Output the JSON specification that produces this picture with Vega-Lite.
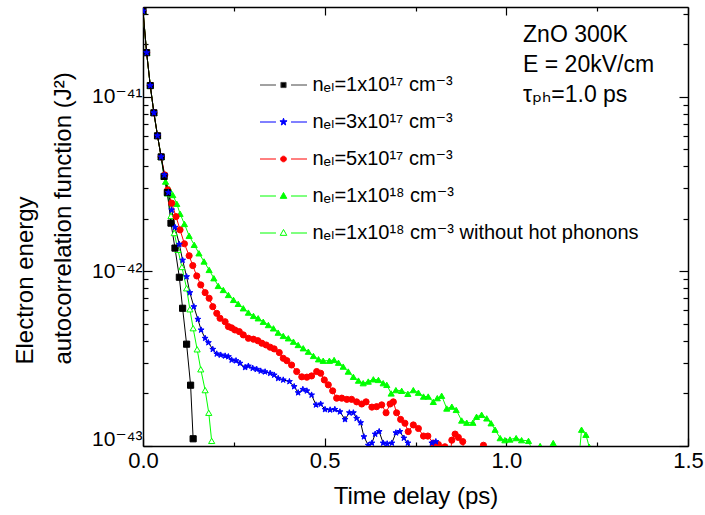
{
  "$schema": "https://vega.github.io/schema/vega-lite/v6.json",
  "width": 545,
  "height": 439,
  "autosize": "none",
  "padding": {"left": 143, "top": 7, "right": 17, "bottom": 69},
  "background": "white",
  "config": {
    "font": "Liberation Sans, DejaVu Sans",
    "view": {"stroke": null},
    "axis": {"grid": false, "domainColor": "#000", "domainWidth": 1.5, "tickColor": "#000", "tickWidth": 1.2, "labelColor": "#000", "titleColor": "#000", "labelFont": "Liberation Sans, DejaVu Sans", "titleFont": "Liberation Sans, DejaVu Sans", "titleFontWeight": "normal"}
  },
  "data": {"values": [
    {"s":"D","t":0,"y":3.1e-41},{"s":"D","t":0.01,"y":1.79e-41},{"s":"D","t":0.02,"y":1.16e-41},{"s":"D","t":0.03,"y":8.1e-42},{"s":"D","t":0.04,"y":5.98e-42},{"s":"D","t":0.05,"y":4.53e-42},
    {"s":"D","t":0.062,"y":3.27e-42},{"s":"D","t":0.072,"y":2.96e-42},{"s":"D","t":0.082,"y":2.74e-42},{"s":"D","t":0.093,"y":2.44e-42},{"s":"D","t":0.102,"y":2.14e-42},{"s":"D","t":0.114,"y":1.87e-42},{"s":"D","t":0.127,"y":1.6e-42},{"s":"D","t":0.141,"y":1.42e-42},{"s":"D","t":0.154,"y":1.27e-42},{"s":"D","t":0.168,"y":1.14e-42},{"s":"D","t":0.182,"y":1.02e-42},{"s":"D","t":0.195,"y":9.14e-43},{"s":"D","t":0.207,"y":8.26e-43},{"s":"D","t":0.221,"y":7.83e-43},{"s":"D","t":0.235,"y":7.33e-43},{"s":"D","t":0.249,"y":6.87e-43},{"s":"D","t":0.262,"y":6.52e-43},{"s":"D","t":0.276,"y":6.15e-43},{"s":"D","t":0.29,"y":5.81e-43},{"s":"D","t":0.304,"y":5.56e-43},{"s":"D","t":0.317,"y":5.39e-43},{"s":"D","t":0.331,"y":5.15e-43},{"s":"D","t":0.345,"y":4.93e-43},{"s":"D","t":0.359,"y":4.72e-43},{"s":"D","t":0.372,"y":4.46e-43},{"s":"D","t":0.386,"y":4.27e-43},{"s":"D","t":0.4,"y":4.14e-43},{"s":"D","t":0.414,"y":3.96e-43},{"s":"D","t":0.427,"y":3.79e-43},{"s":"D","t":0.441,"y":3.63e-43},{"s":"D","t":0.455,"y":3.47e-43},{"s":"D","t":0.469,"y":3.28e-43},{"s":"D","t":0.483,"y":3.14e-43},{"s":"D","t":0.496,"y":3.08e-43},{"s":"D","t":0.513,"y":3.08e-43},{"s":"D","t":0.526,"y":3.11e-43},{"s":"D","t":0.538,"y":3.0e-43},{"s":"D","t":0.551,"y":2.85e-43},{"s":"D","t":0.565,"y":2.67e-43},{"s":"D","t":0.579,"y":2.49e-43},{"s":"D","t":0.593,"y":2.37e-43},{"s":"D","t":0.606,"y":2.29e-43},{"s":"D","t":0.62,"y":2.34e-43},{"s":"D","t":0.634,"y":2.41e-43},{"s":"D","t":0.648,"y":2.39e-43},{"s":"D","t":0.661,"y":2.29e-43},{"s":"D","t":0.671,"y":2.24e-43},{"s":"D","t":0.683,"y":2.0e-43},{"s":"D","t":0.696,"y":2.09e-43},{"s":"D","t":0.712,"y":2.07e-43},{"s":"D","t":0.729,"y":1.99e-43},{"s":"D","t":0.744,"y":2.09e-43},{"s":"D","t":0.758,"y":2.02e-43},{"s":"D","t":0.772,"y":1.92e-43},{"s":"D","t":0.785,"y":1.92e-43},{"s":"D","t":0.799,"y":1.79e-43},{"s":"D","t":0.81,"y":1.88e-43},{"s":"D","t":0.822,"y":1.94e-43},{"s":"D","t":0.836,"y":1.64e-43},{"s":"D","t":0.85,"y":1.68e-43},{"s":"D","t":0.862,"y":1.61e-43},{"s":"D","t":0.877,"y":1.4e-43},{"s":"D","t":0.891,"y":1.36e-43},{"s":"D","t":0.908,"y":1.36e-43},{"s":"D","t":0.918,"y":1.47e-43},{"s":"D","t":0.932,"y":1.51e-43},{"s":"D","t":0.946,"y":1.44e-43},{"s":"D","t":0.958,"y":1.35e-43},{"s":"D","t":0.969,"y":1.24e-43},{"s":"D","t":0.983,"y":1.11e-43},{"s":"D","t":0.996,"y":1.08e-43},{"s":"D","t":1.01,"y":1.09e-43},{"s":"D","t":1.027,"y":1.11e-43},{"s":"D","t":1.042,"y":1.08e-43},{"s":"D","t":1.061,"y":1.07e-43},{"s":"D","t":1.075,"y":9e-44},{"s":"D","t":1.093,"y":1.0e-43},{"s":"D","t":1.11,"y":7e-44},{"s":"D","t":1.129,"y":1.04e-43},{"s":"D","t":1.15,"y":5e-44},{"s":"D","t":1.19,"y":5e-44},{"s":"D","t":1.207,"y":1.24e-43},{"s":"D","t":1.219,"y":1.16e-43},{"s":"D","t":1.228,"y":9.9e-44},{"s":"D","t":1.24,"y":5e-44},
    {"s":"E","t":0,"y":3.1e-41},{"s":"E","t":0.01,"y":1.79e-41},{"s":"E","t":0.02,"y":1.16e-41},{"s":"E","t":0.03,"y":8.1e-42},{"s":"E","t":0.04,"y":5.98e-42},{"s":"E","t":0.05,"y":4.53e-42},
    {"s":"E","t":0.058,"y":3.49e-42},{"s":"E","t":0.067,"y":2.8e-42},{"s":"E","t":0.077,"y":2.08e-42},{"s":"E","t":0.086,"y":1.66e-42},{"s":"E","t":0.096,"y":1.33e-42},{"s":"E","t":0.107,"y":1.06e-42},{"s":"E","t":0.12,"y":8.01e-43},{"s":"E","t":0.129,"y":6.07e-43},{"s":"E","t":0.138,"y":4.73e-43},{"s":"E","t":0.149,"y":3.58e-43},{"s":"E","t":0.159,"y":2.75e-43},{"s":"E","t":0.171,"y":2.09e-43},{"s":"E","t":0.181,"y":1.55e-43},{"s":"E","t":0.189,"y":1.07e-43},
    {"s":"C","t":0,"y":3.1e-41},{"s":"C","t":0.01,"y":1.79e-41},{"s":"C","t":0.02,"y":1.16e-41},{"s":"C","t":0.03,"y":8.1e-42},{"s":"C","t":0.04,"y":5.98e-42},{"s":"C","t":0.05,"y":4.53e-42},
    {"s":"C","t":0.06,"y":3.57e-42},{"s":"C","t":0.068,"y":2.93e-42},{"s":"C","t":0.079,"y":2.46e-42},{"s":"C","t":0.091,"y":2.06e-42},{"s":"C","t":0.102,"y":1.73e-42},{"s":"C","t":0.114,"y":1.44e-42},{"s":"C","t":0.127,"y":1.23e-42},{"s":"C","t":0.137,"y":1.08e-42},{"s":"C","t":0.148,"y":9.42e-43},{"s":"C","t":0.159,"y":8.37e-43},{"s":"C","t":0.171,"y":7.56e-43},{"s":"C","t":0.182,"y":7.02e-43},{"s":"C","t":0.192,"y":6.28e-43},{"s":"C","t":0.203,"y":5.75e-43},{"s":"C","t":0.212,"y":5.39e-43},{"s":"C","t":0.226,"y":5.15e-43},{"s":"C","t":0.235,"y":4.83e-43},{"s":"C","t":0.244,"y":4.75e-43},{"s":"C","t":0.253,"y":4.62e-43},{"s":"C","t":0.265,"y":4.52e-43},{"s":"C","t":0.276,"y":4.33e-43},{"s":"C","t":0.29,"y":4.14e-43},{"s":"C","t":0.304,"y":4.09e-43},{"s":"C","t":0.316,"y":4.01e-43},{"s":"C","t":0.327,"y":3.88e-43},{"s":"C","t":0.339,"y":3.79e-43},{"s":"C","t":0.35,"y":3.68e-43},{"s":"C","t":0.361,"y":3.6e-43},{"s":"C","t":0.375,"y":3.43e-43},{"s":"C","t":0.386,"y":3.18e-43},{"s":"C","t":0.396,"y":3.08e-43},{"s":"C","t":0.409,"y":2.91e-43},{"s":"C","t":0.423,"y":2.67e-43},{"s":"C","t":0.437,"y":2.49e-43},{"s":"C","t":0.451,"y":2.48e-43},{"s":"C","t":0.464,"y":2.52e-43},{"s":"C","t":0.478,"y":2.67e-43},{"s":"C","t":0.489,"y":2.61e-43},{"s":"C","t":0.499,"y":2.39e-43},{"s":"C","t":0.51,"y":2.24e-43},{"s":"C","t":0.522,"y":2.07e-43},{"s":"C","t":0.533,"y":1.88e-43},{"s":"C","t":0.547,"y":1.88e-43},{"s":"C","t":0.561,"y":1.85e-43},{"s":"C","t":0.574,"y":1.85e-43},{"s":"C","t":0.588,"y":1.79e-43},{"s":"C","t":0.602,"y":1.74e-43},{"s":"C","t":0.614,"y":1.79e-43},{"s":"C","t":0.63,"y":1.67e-43},{"s":"C","t":0.643,"y":1.68e-43},{"s":"C","t":0.657,"y":1.72e-43},{"s":"C","t":0.669,"y":1.55e-43},{"s":"C","t":0.68,"y":1.74e-43},{"s":"C","t":0.689,"y":1.79e-43},{"s":"C","t":0.698,"y":1.55e-43},{"s":"C","t":0.709,"y":1.42e-43},{"s":"C","t":0.721,"y":1.35e-43},{"s":"C","t":0.73,"y":1.21e-43},{"s":"C","t":0.744,"y":1.32e-43},{"s":"C","t":0.758,"y":1.26e-43},{"s":"C","t":0.772,"y":1.14e-43},{"s":"C","t":0.784,"y":1.14e-43},{"s":"C","t":0.799,"y":1.04e-43},{"s":"C","t":0.813,"y":1.02e-43},{"s":"C","t":0.831,"y":9.9e-44},{"s":"C","t":0.84,"y":7e-44},{"s":"C","t":0.85,"y":1.08e-43},{"s":"C","t":0.859,"y":1.17e-43},{"s":"C","t":0.868,"y":1.12e-43},{"s":"C","t":0.88,"y":1.06e-43},{"s":"C","t":0.895,"y":5e-44},{"s":"C","t":0.925,"y":5e-44},{"s":"C","t":0.937,"y":1.01e-43},{"s":"C","t":0.95,"y":5e-44},
    {"s":"A","t":0,"y":3.1e-41},{"s":"A","t":0.01,"y":1.79e-41},{"s":"A","t":0.02,"y":1.16e-41},{"s":"A","t":0.03,"y":8.1e-42},{"s":"A","t":0.04,"y":5.98e-42},{"s":"A","t":0.05,"y":4.53e-42},
    {"s":"A","t":0.058,"y":3.5e-42},{"s":"A","t":0.067,"y":2.83e-42},{"s":"A","t":0.077,"y":1.89e-42},{"s":"A","t":0.088,"y":1.36e-42},{"s":"A","t":0.1,"y":9.26e-43},{"s":"A","t":0.109,"y":6.15e-43},{"s":"A","t":0.12,"y":3.83e-43},{"s":"A","t":0.131,"y":2.23e-43},{"s":"A","t":0.138,"y":1.1e-43},
    {"s":"B","t":0,"y":3.1e-41},{"s":"B","t":0.01,"y":1.79e-41},{"s":"B","t":0.02,"y":1.16e-41},{"s":"B","t":0.03,"y":8.1e-42},{"s":"B","t":0.04,"y":5.98e-42},{"s":"B","t":0.05,"y":4.53e-42},
    {"s":"B","t":0.059,"y":3.57e-42},{"s":"B","t":0.07,"y":2.83e-42},{"s":"B","t":0.079,"y":2.25e-42},{"s":"B","t":0.088,"y":1.79e-42},{"s":"B","t":0.1,"y":1.43e-42},{"s":"B","t":0.109,"y":1.16e-42},{"s":"B","t":0.12,"y":9.33e-43},{"s":"B","t":0.129,"y":7.56e-43},{"s":"B","t":0.14,"y":6.28e-43},{"s":"B","t":0.151,"y":5.32e-43},{"s":"B","t":0.16,"y":4.62e-43},{"s":"B","t":0.171,"y":4.14e-43},{"s":"B","t":0.18,"y":3.91e-43},{"s":"B","t":0.192,"y":3.58e-43},{"s":"B","t":0.203,"y":3.37e-43},{"s":"B","t":0.214,"y":3.32e-43},{"s":"B","t":0.226,"y":3.28e-43},{"s":"B","t":0.235,"y":3.25e-43},{"s":"B","t":0.244,"y":3.11e-43},{"s":"B","t":0.256,"y":3.08e-43},{"s":"B","t":0.267,"y":2.98e-43},{"s":"B","t":0.281,"y":2.82e-43},{"s":"B","t":0.29,"y":2.87e-43},{"s":"B","t":0.302,"y":2.79e-43},{"s":"B","t":0.313,"y":2.75e-43},{"s":"B","t":0.324,"y":2.69e-43},{"s":"B","t":0.336,"y":2.66e-43},{"s":"B","t":0.35,"y":2.61e-43},{"s":"B","t":0.361,"y":2.55e-43},{"s":"B","t":0.372,"y":2.44e-43},{"s":"B","t":0.386,"y":2.39e-43},{"s":"B","t":0.403,"y":2.34e-43},{"s":"B","t":0.416,"y":2.19e-43},{"s":"B","t":0.427,"y":2.02e-43},{"s":"B","t":0.44,"y":2.11e-43},{"s":"B","t":0.451,"y":2.07e-43},{"s":"B","t":0.464,"y":1.96e-43},{"s":"B","t":0.476,"y":1.72e-43},{"s":"B","t":0.489,"y":1.74e-43},{"s":"B","t":0.501,"y":1.62e-43},{"s":"B","t":0.515,"y":1.61e-43},{"s":"B","t":0.528,"y":1.62e-43},{"s":"B","t":0.542,"y":1.57e-43},{"s":"B","t":0.556,"y":1.42e-43},{"s":"B","t":0.568,"y":1.55e-43},{"s":"B","t":0.579,"y":1.55e-43},{"s":"B","t":0.588,"y":1.44e-43},{"s":"B","t":0.599,"y":1.36e-43},{"s":"B","t":0.608,"y":1.13e-43},{"s":"B","t":0.62,"y":1.01e-43},{"s":"B","t":0.63,"y":1.04e-43},{"s":"B","t":0.639,"y":1.17e-43},{"s":"B","t":0.65,"y":1.21e-43},{"s":"B","t":0.661,"y":1.04e-43},{"s":"B","t":0.672,"y":1.03e-43},{"s":"B","t":0.685,"y":1.04e-43},{"s":"B","t":0.696,"y":1.19e-43},{"s":"B","t":0.707,"y":1.21e-43},{"s":"B","t":0.718,"y":1.11e-43},{"s":"B","t":0.729,"y":1.04e-43},{"s":"B","t":0.76,"y":5e-44},{"s":"B","t":0.795,"y":1.04e-43},{"s":"B","t":0.806,"y":1.06e-43},{"s":"B","t":0.82,"y":5e-44}
  ]},
  "layer": [
    {
      "mark": {"type": "line", "clip": true, "strokeWidth": 1},
      "encoding": {
        "x": {"field": "t", "type": "quantitative", "scale": {"domain": [0, 1.5], "nice": false, "zero": false},
          "axis": {"orient": "bottom", "values": [0, 0.25, 0.5, 0.75, 1, 1.25, 1.5], "labelExpr": "datum.value % 0.5 == 0 ? format(datum.value, '.1f') : ''", "labelFontSize": 22, "labelFlush": false, "labelOverlap": false, "labelPadding": 12, "tickSize": {"condition": {"test": "datum.value % 0.5 == 0", "value": -8}, "value": -4}, "title": "Time delay (ps)", "titleFontSize": 24, "titleY": 57, "titleBaseline": "alphabetic"}},
        "y": {"field": "y", "type": "quantitative", "scale": {"type": "log", "domain": [1e-43, 3.27e-41], "nice": false},
          "axis": {"orient": "left", "values": [1e-43,2e-43,3e-43,4e-43,5e-43,6e-43,7e-43,8e-43,9e-43,1e-42,2e-42,3e-42,4e-42,5e-42,6e-42,7e-42,8e-42,9e-42,1e-41,2e-41,3e-41],
            "labelExpr": "abs(log(datum.value)/LN10 - round(log(datum.value)/LN10)) < 0.01 ? (round(log(datum.value)/LN10) == -41 ? '10⁻⁴¹' : round(log(datum.value)/LN10) == -42 ? '10⁻⁴²' : '10⁻⁴³') : ''",
            "labelFontSize": 21, "labelOverlap": false, "labelPadding": 10,
            "labelOffset": {"condition": {"test": "datum.value < 1.5e-43", "value": -7}, "value": 0},
            "tickSize": {"condition": {"test": "abs(log(datum.value)/LN10 - round(log(datum.value)/LN10)) < 0.01", "value": -9}, "value": -5},
            "title": ["Electron energy", "autocorrelation function (J²)"], "titleFontSize": 24, "titleLineHeight": 38, "titleAngle": -90, "titleAlign": "left", "titleBaseline": "alphabetic", "titleX": -111, "titleY": 357}},
        "color": {"field": "s", "type": "nominal", "scale": {"domain": ["A","B","C","D","E"], "range": ["#000000","#000000","#ff0000","#00ff00","#00ff00"]}, "legend": null}
      }
    },
    {
      "mark": {"type": "point", "clip": true, "opacity": 1, "size": 38, "strokeWidth": 1},
      "encoding": {
        "x": {"field": "t", "type": "quantitative", "scale": {"domain": [0, 1.5], "nice": false, "zero": false}, "axis": null},
        "y": {"field": "y", "type": "quantitative", "scale": {"type": "log", "domain": [1e-43, 3.27e-41], "nice": false}, "axis": null},
        "shape": {"field": "s", "type": "nominal", "scale": {"domain": ["A","B","C","D","E"], "range": ["square", "M0,-1L0.235,-0.324L0.951,-0.309L0.38,0.124L0.588,0.809L0,0.4L-0.588,0.809L-0.38,0.124L-0.951,-0.309L-0.235,-0.324Z", "circle", "triangle-up", "triangle-up"]}, "legend": null},
        "fill": {"field": "s", "type": "nominal", "scale": {"domain": ["A","B","C","D","E"], "range": ["#000000","#0000ff","#ff0000","#00ff00","#ffffff"]}, "legend": null},
        "stroke": {"field": "s", "type": "nominal", "scale": {"domain": ["A","B","C","D","E"], "range": ["#000000","#0000ff","#ff0000","#00ff00","#00ff00"]}, "legend": null}
      }
    },
    {
      "transform": [{"filter": "false"}],
      "mark": {"type": "point", "opacity": 1, "size": 2209, "strokeWidth": 1},
      "encoding": {
        "shape": {"field": "s", "type": "nominal", "scale": {"domain": ["A","B","C","D","E"], "range": [
          "M-1,0H-0.32M0.32,0H1M-0.11,-0.11H0.11V0.11H-0.11Z",
          "M-1,0H-0.32M0.32,0H1M0,-0.16L0.038,-0.053L0.152,-0.049L0.062,0.02L0.094,0.129L0,0.065L-0.094,0.129L-0.062,0.02L-0.152,-0.049L-0.038,-0.053Z",
          "M-1,0H-0.32M0.32,0H1M-0.12,0A0.12,0.12,0,1,0,0.12,0A0.12,0.12,0,1,0,-0.12,0Z",
          "M-1,0H-0.32M0.32,0H1M0,-0.15L0.14,0.1L-0.14,0.1Z",
          "M-1,0H-0.32M0.32,0H1M0,-0.15L0.14,0.1L-0.14,0.1Z"]},
          "legend": {"orient": "none", "legendX": 116.5, "legendY": 63, "padding": 0, "title": null, "clipHeight": 30, "rowPadding": 7, "symbolSize": 2209, "symbolStrokeWidth": 1, "labelFontSize": 20, "labelOffset": 5, "labelLimit": 500, "labelColor": "#000", "labelFont": "Liberation Sans, DejaVu Sans",
            "labelExpr": "{'A': 'nₑₗ=1x10¹⁷ cm⁻³', 'B': 'nₑₗ=3x10¹⁷ cm⁻³', 'C': 'nₑₗ=5x10¹⁷ cm⁻³', 'D': 'nₑₗ=1x10¹⁸ cm⁻³', 'E': 'nₑₗ=1x10¹⁸ cm⁻³ without hot phonons'}[datum.label]"}},
        "fill": {"field": "s", "type": "nominal", "scale": {"domain": ["A","B","C","D","E"], "range": ["#000000","#0000ff","#ff0000","#00ff00","#ffffff"]}},
        "stroke": {"field": "s", "type": "nominal", "scale": {"domain": ["A","B","C","D","E"], "range": ["#444444","#0000ff","#ff0000","#00ff00","#00ff00"]}}
      }
    },
    {
      "data": {"values": [{"note": "annotation"}]},
      "mark": {"type": "text", "align": "left", "baseline": "alphabetic", "fontSize": 23, "lineHeight": 30, "color": "#000", "font": "Liberation Sans, DejaVu Sans", "text": ["ZnO 300K", "E = 20kV/cm", "τₚₕ=1.0 ps"]},
      "encoding": {
        "x": {"datum": 1.046, "type": "quantitative", "scale": {"domain": [0, 1.5], "nice": false, "zero": false}, "axis": null},
        "y": {"datum": 2.065e-41, "type": "quantitative", "scale": {"type": "log", "domain": [1e-43, 3.27e-41], "nice": false}, "axis": null}
      }
    },
    {
      "transform": [{"filter": "false"}],
      "mark": {"type": "point", "opacity": 0},
      "encoding": {
        "x": {"field": "t", "type": "quantitative", "scale": {"domain": [0, 1.5], "nice": false, "zero": false},
          "axis": {"orient": "top", "values": [0, 0.25, 0.5, 0.75, 1, 1.25, 1.5], "labels": false, "title": null, "tickSize": {"condition": {"test": "datum.value % 0.5 == 0", "value": -8}, "value": -4}}},
        "y": {"field": "y", "type": "quantitative", "scale": {"type": "log", "domain": [1e-43, 3.27e-41], "nice": false},
          "axis": {"orient": "right", "values": [1e-43,2e-43,3e-43,4e-43,5e-43,6e-43,7e-43,8e-43,9e-43,1e-42,2e-42,3e-42,4e-42,5e-42,6e-42,7e-42,8e-42,9e-42,1e-41,2e-41,3e-41], "labels": false, "title": null,
            "tickSize": {"condition": {"test": "abs(log(datum.value)/LN10 - round(log(datum.value)/LN10)) < 0.01", "value": -9}, "value": -5}}}
      }
    }
  ],
  "resolve": {"scale": {"color": "independent", "shape": "independent", "fill": "independent", "stroke": "independent"}, "axis": {"x": "independent", "y": "independent"}}
}
